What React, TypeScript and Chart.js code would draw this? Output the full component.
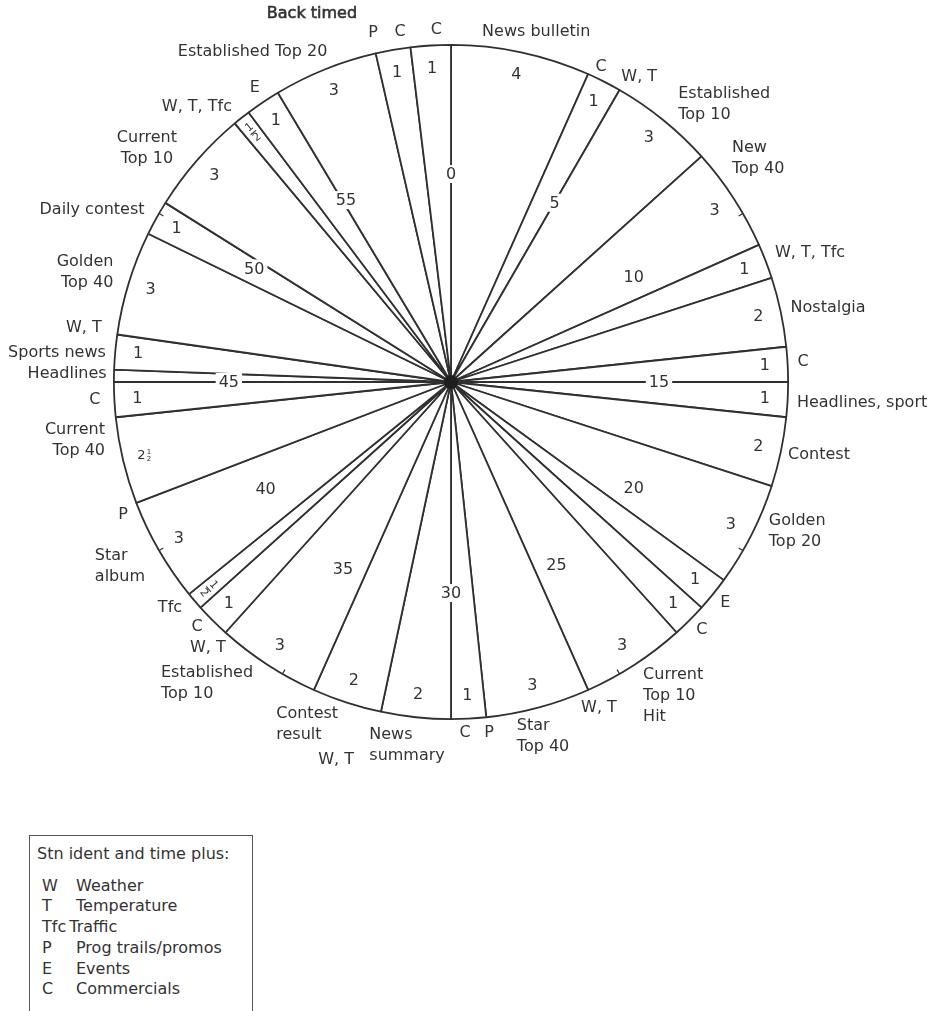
import React, { useEffect, useRef } from 'react';
import { Chart, registerables } from 'chart.js';

Chart.register(...registerables);

// ---- data: the hour, clockwise from 0 (durations in minutes) ----
const segmentNames = [
  'News bulletin', 'C', 'Established Top 10', 'New Top 40', 'W, T, Tfc', 'Nostalgia', 'C',
  'Headlines, sport', 'Contest', 'Golden Top 20', 'E', 'C', 'Current Top 10 Hit', 'Star Top 40',
  'C', 'News summary', 'Contest result', 'Established Top 10', 'W, T', 'Tfc', 'Star album',
  'Current Top 40', 'C', 'Headlines', 'Sports news', 'Golden Top 40', 'Daily contest',
  'Current Top 10', 'W, T, Tfc', 'E', 'Established Top 20', 'P', 'C',
];
const durations = [
  4, 1, 3, 3, 1, 2, 1, 1, 2, 3, 1, 1, 3, 3, 1, 2, 2, 3, 1, 0.5, 3, 2.5, 1, 0.35, 1, 3, 1, 3,
  0.5, 1, 3, 1, 1.15,
];
const durationLabels = [
  '4', '1', '3', '3', '1', '2', '1', '1', '2', '3', '1', '1', '3', '3', '1', '2', '2', '3', '1',
  '½', '3', '2½', '1', '', '1', '3', '1', '3', '½', '1', '3', '1', '1',
];

// minute markers written inside the clock
const minuteMarks = [0, 5, 10, 15, 20, 25, 30, 35, 40, 45, 50, 55];
const minuteMarkRadius = [0.617, 0.614, 0.626, 0.617, 0.626, 0.626, 0.626, 0.641, 0.635, 0.659, 0.674, 0.623];
// small rim ticks at five-minute points without a dividing line
const rimTicks = [10, 20, 25, 35, 40, 50];

// cue labels round the outside: text, minute where they sit, distance (x radius), alignment
const cueText = [
  'Back timed', 'P', 'C', 'C', 'Established Top 20', 'E', 'W, T, Tfc', 'Current\nTop 10',
  'Daily contest', 'Golden\nTop 40', 'W, T', 'Sports news', 'Headlines', 'C', 'Current\nTop 40',
  'P', 'Star\nalbum', 'Tfc', 'C', 'W, T', 'Established\nTop 10', 'Contest\nresult', 'W, T',
  'News\nsummary', 'C', 'P', 'Star\nTop 40', 'W, T', 'Current\nTop 10\nHit', 'C', 'E',
  'Golden\nTop 20', 'Contest', 'Headlines, sport', 'C', 'Nostalgia', 'W, T, Tfc', 'New\nTop 40',
  'Established\nTop 10', 'W, T', 'C', 'News bulletin',
];
const cueMinute = [
  56.55, 57.9, 58.62, 59.6, 54.83, 54.38, 52.88, 51.25, 49.27, 47.77, 46.4, 45.7, 45.2, 44.52,
  43.52, 41.32, 40.15, 38.53, 37.67, 37.07, 36.5, 33.8, 32.82, 31.15, 29.62, 28.97, 27.57, 25.93,
  24.12, 22.45, 21.48, 18.88, 16.87, 15.48, 14.45, 13.15, 11.7, 8.98, 7.42, 5.28, 4.25, 2.28,
];
const cueRadius = [
  1.167, 1.061, 1.05, 1.045, 1.142, 1.048, 1.111, 1.137, 1.181, 1.133, 1.101, 1.172, 1.139, 1.058,
  1.129, 1.05, 1.124, 1.07, 1.047, 1.069, 1.15, 1.101, 1.172, 1.085, 1.042, 1.047, 1.085, 1.062,
  1.141, 1.047, 1.045, 1.118, 1.113, 1.221, 1.046, 1.14, 1.132, 1.128, 1.156, 1.063, 1.035, 1.069,
];
const cueAlign = [
  'c', 'c', 'c', 'c', 'c', 'c', 'c', 'c', 'c', 'r', 'c', 'c', 'c', 'c', 'r', 'c', 'l', 'c', 'c',
  'c', 'l', 'l', 'c', 'l', 'c', 'c', 'l', 'c', 'l', 'c', 'c', 'l', 'c', 'c', 'c', 'c', 'c', 'l',
  'l', 'c', 'c', 'c',
];

const legendTitle = 'Stn ident and time plus:';
const legendKeys = ['W', 'T', 'Tfc', 'P', 'E', 'C'];
const legendDescs = ['Weather', 'Temperature', 'Traffic', 'Prog trails/promos', 'Events', 'Commercials'];

const FONT = '"DejaVu Sans", "Liberation Sans", sans-serif';
const INK = '#333333';
const LINE = '#303030';

const clockPlugin = {
  id: 'clockText',
  afterDatasetsDraw(chart: any) {
    const ctx: CanvasRenderingContext2D = chart.ctx;
    const arc = chart.getDatasetMeta(0).data[0];
    const { x: cx, y: cy, outerRadius: R } = arc.getProps(['x', 'y', 'outerRadius'], true);
    const pt = (m: number, r: number) => {
      const a = (m / 60) * Math.PI * 2 - Math.PI / 2;
      return [cx + r * Math.cos(a), cy + r * Math.sin(a)];
    };
    ctx.save();
    // hub where all the lines meet
    ctx.fillStyle = '#1e1e1e';
    ctx.beginPath();
    ctx.arc(cx, cy, 7, 0, Math.PI * 2);
    ctx.fill();

    // rim ticks
    ctx.strokeStyle = LINE;
    ctx.lineWidth = 1.2;
    rimTicks.forEach((m) => {
      const [x1, y1] = pt(m, R);
      const [x2, y2] = pt(m, R - 5);
      ctx.beginPath();
      ctx.moveTo(x1, y1);
      ctx.lineTo(x2, y2);
      ctx.stroke();
    });

    ctx.fillStyle = INK;
    ctx.textBaseline = 'middle';
    ctx.textAlign = 'center';

    // duration numbers
    let start = 0;
    durations.forEach((d, i) => {
      const mid = start + d / 2;
      start += d;
      const lab = durationLabels[i];
      if (!lab) return;
      if (lab === '½') {
        const [x, y] = pt(mid, R * 0.945);
        let deg = mid * 6;
        if (deg > 90 && deg < 270) deg -= 180;
        else if (deg >= 270) deg -= 360;
        ctx.save();
        ctx.translate(x, y);
        ctx.rotate((deg * Math.PI) / 180);
        ctx.font = `11px ${FONT}`;
        ctx.fillText('1', 0, -6);
        ctx.fillText('2', 0, 6.5);
        ctx.strokeStyle = INK;
        ctx.lineWidth = 1.1;
        ctx.beginPath();
        ctx.moveTo(-3.5, 0.3);
        ctx.lineTo(3.5, 0.3);
        ctx.stroke();
        ctx.restore();
        return;
      }
      const [x, y] = pt(mid, R * 0.932);
      if (lab === '2½') {
        ctx.font = `13px ${FONT}`;
        ctx.fillText('2', x - 4, y);
        ctx.font = `7px ${FONT}`;
        ctx.fillText('1', x + 3.5, y - 3.5);
        ctx.fillText('2', x + 3.5, y + 3.5);
        return;
      }
      ctx.font = `16px ${FONT}`;
      ctx.fillText(lab, x, y);
    });

    // minute markers, with a white gap in the line behind them
    ctx.font = `16px ${FONT}`;
    minuteMarks.forEach((m, i) => {
      const [x, y] = pt(m, R * minuteMarkRadius[i]);
      const t = String(m);
      const w = ctx.measureText(t).width;
      ctx.fillStyle = '#fff';
      ctx.fillRect(x - w / 2 - 3, y - 9, w + 6, 18);
      ctx.fillStyle = INK;
      ctx.fillText(t, x, y + 1);
    });

    // outer cue labels
    const lineH = 21;
    cueText.forEach((txt, i) => {
      const [x0, y0] = pt(cueMinute[i], R * cueRadius[i]);
      const lines = txt.split('\n');
      ctx.font = `16px ${FONT}`;
      const maxW = Math.max(...lines.map((l) => ctx.measureText(l).width));
      lines.forEach((l, k) => {
        const y = y0 - ((lines.length - 1) * lineH) / 2 + k * lineH;
        const al = cueAlign[i];
        let x = x0;
        if (al === 'l') {
          ctx.textAlign = 'left';
          x = x0 - maxW / 2;
        } else if (al === 'r') {
          ctx.textAlign = 'right';
          x = x0 + maxW / 2;
        } else ctx.textAlign = 'center';
        ctx.fillStyle = INK;
        ctx.fillText(l, x, y);
        if (i === 0) {
          ctx.strokeStyle = INK;
          ctx.lineWidth = 0.6;
          ctx.strokeText(l, x, y);
        }
      });
    });
    ctx.restore();
  },
};

export default function App() {
  const ref = useRef<HTMLCanvasElement | null>(null);
  useEffect(() => {
    if (!ref.current) return;
    const chart = new Chart(ref.current, {
      type: 'pie',
      data: {
        labels: segmentNames,
        datasets: [
          {
            data: durations,
            backgroundColor: '#ffffff',
            borderColor: LINE,
            borderWidth: 1.8,
          },
        ],
      },
      options: {
        responsive: false,
        animation: false,
        layout: { padding: { left: 113, top: 44, right: 151, bottom: 78 } },
        plugins: { legend: { display: false }, tooltip: { enabled: false } },
      },
      plugins: [clockPlugin],
    } as any);
    return () => chart.destroy();
  }, []);

  return (
    <div
      style={{
        position: 'absolute',
        left: 0,
        top: 0,
        width: 940,
        height: 1011,
        overflow: 'hidden',
        fontFamily: FONT,
        color: INK,
      }}
    >
      <canvas ref={ref} width={940} height={798} style={{ display: 'block' }} />
      <div
        style={{
          position: 'absolute',
          left: 29,
          top: 835,
          width: 224,
          height: 200,
          boxSizing: 'border-box',
          border: '1.5px solid #555',
          padding: '8px 0 0 7px',
          fontSize: 16,
          lineHeight: '20.7px',
        }}
      >
        <div style={{ marginBottom: 11 }}>{legendTitle}</div>
        {legendKeys.map((k, i) => (
          <div key={k} style={{ display: 'flex', paddingLeft: 5, whiteSpace: 'nowrap' }}>
            <span style={{ display: 'inline-block', minWidth: k.length > 1 ? 0 : 34, marginRight: k.length > 1 ? 3 : 0 }}>{k}</span>
            <span>{legendDescs[i]}</span>
          </div>
        ))}
      </div>
    </div>
  );
}
